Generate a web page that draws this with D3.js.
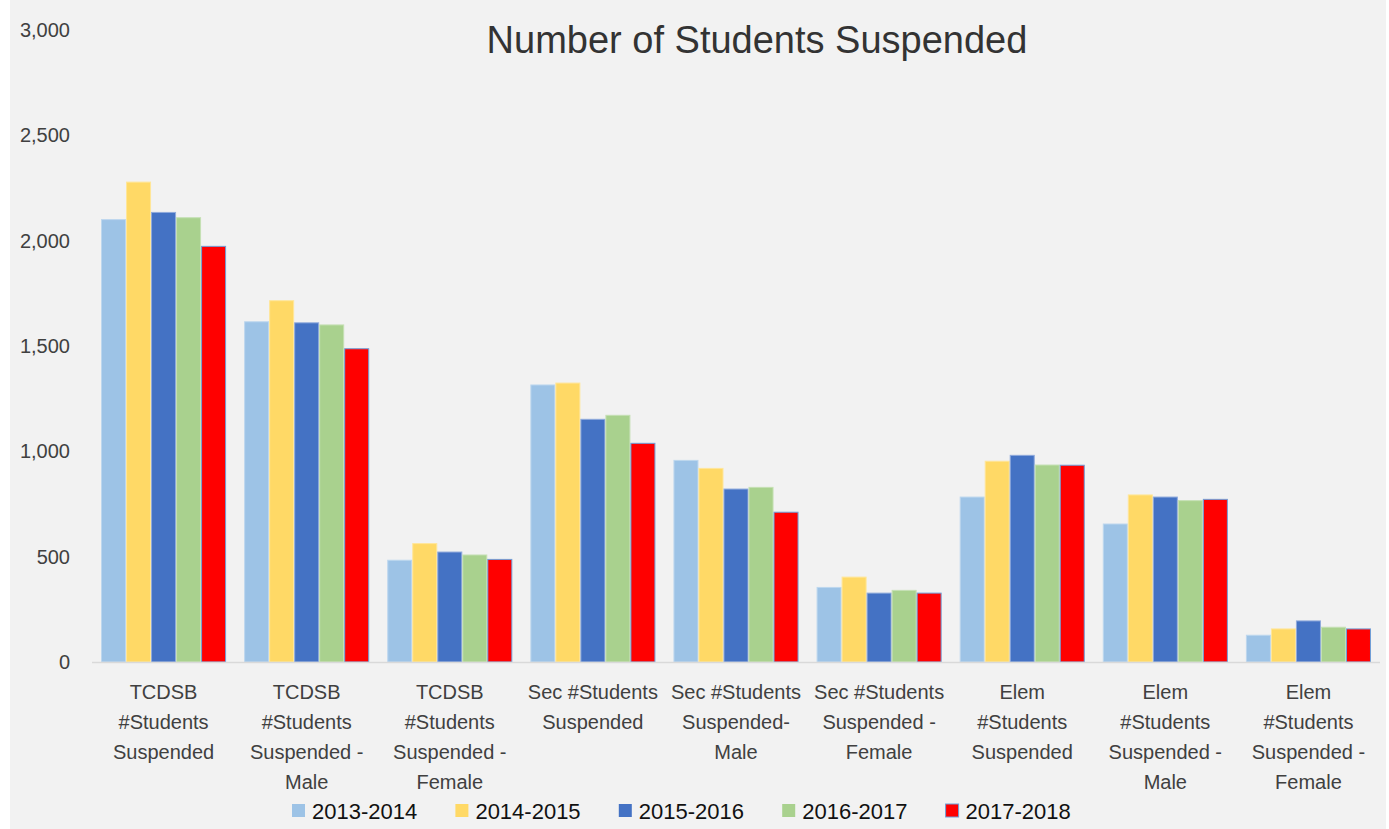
<!DOCTYPE html>
<html>
<head>
<meta charset="utf-8">
<script src="https://cdn.jsdelivr.net/npm/d3@7"></script>
<style>
  body { margin: 0; background: #fff; }
  text { font-family: "Liberation Sans", Arial, sans-serif; }
</style>
</head>
<body>
<div id="chart"></div>
<script>
// categories (label lines as they wrap in the picture)
var categories = [
  ["TCDSB", "#Students", "Suspended"],
  ["TCDSB", "#Students", "Suspended -", "Male"],
  ["TCDSB", "#Students", "Suspended -", "Female"],
  ["Sec #Students", "Suspended"],
  ["Sec #Students", "Suspended-", "Male"],
  ["Sec #Students", "Suspended -", "Female"],
  ["Elem", "#Students", "Suspended"],
  ["Elem", "#Students", "Suspended -", "Male"],
  ["Elem", "#Students", "Suspended -", "Female"]
];
var years = ["2013-2014", "2014-2015", "2015-2016", "2016-2017", "2017-2018"];

var y2013 = [2100, 1615, 483, 1315, 957, 354, 783, 655, 127];
var y2014 = [2278, 1715, 562, 1324, 919, 403, 953, 793, 157];
var y2015 = [2134, 1610, 522, 1152, 821, 327, 981, 783, 195];
var y2016 = [2109, 1600, 508, 1171, 829, 340, 935, 766, 165];
var y2017 = [1973, 1487, 487, 1038, 711, 327, 934, 772, 157];
var series = [y2013, y2014, y2015, y2016, y2017];

var yTicks = [0, 500, 1000, 1500, 2000, 2500, 3000];

var colors = ["#9dc3e6", "#ffd966", "#4472c4", "#a9d18e", "#ff0000"];
var strokes = ["#bdd7ee", "#ffe699", "#8faadc", "#c5e0b4", "#6f9fd8"];

var W = 1389, H = 829;
var margin = {top: 30, right: 9, bottom: 167, left: 92};

var svg = d3.select("#chart").append("svg")
    .attr("width", W).attr("height", H);

svg.append("rect")
    .attr("x", 10).attr("y", 0)
    .attr("width", 1376).attr("height", H)
    .attr("fill", "#f2f2f2");

var x0 = d3.scaleBand()
    .domain(d3.range(categories.length))
    .range([margin.left, W - margin.right])
    .paddingInner(0.126)
    .paddingOuter(0.063);

var x1 = d3.scaleBand()
    .domain(d3.range(years.length))
    .range([0, x0.bandwidth()]);

var y = d3.scaleLinear()
    .domain([0, 3000])
    .range([H - margin.bottom, margin.top]);

// title
svg.append("text")
    .attr("x", 757).attr("y", 53)
    .attr("text-anchor", "middle")
    .attr("font-size", 38)
    .attr("fill", "#333")
    .text("Number of Students Suspended");

// y axis labels
svg.append("g")
  .selectAll("text")
  .data(yTicks)
  .join("text")
    .attr("x", 70)
    .attr("y", function(d) { return y(d); })
    .attr("dy", "0.35em")
    .attr("text-anchor", "end")
    .attr("font-size", 20)
    .attr("fill", "#404040")
    .text(d3.format(","));

// bars
var groups = svg.append("g")
  .selectAll("g")
  .data(categories)
  .join("g")
    .attr("transform", function(d, i) { return "translate(" + x0(i) + ",0)"; });

groups.selectAll("rect")
  .data(function(d, i) { return series.map(function(s, k) { return {k: k, v: s[i]}; }); })
  .join("rect")
    .attr("x", function(d) { return x1(d.k) + 0.5; })
    .attr("y", function(d) { return y(d.v); })
    .attr("width", x1.bandwidth() - 1)
    .attr("height", function(d) { return y(0) - y(d.v); })
    .attr("fill", function(d) { return colors[d.k]; })
    .attr("stroke", function(d) { return strokes[d.k]; })
    .attr("stroke-width", 1);

// baseline
svg.append("line")
    .attr("x1", margin.left).attr("x2", W - margin.right)
    .attr("y1", y(0) + 0.5).attr("y2", y(0) + 0.5)
    .attr("stroke", "#d9d9d9")
    .attr("stroke-width", 1.5);

// category labels
var labels = svg.append("g")
  .selectAll("text")
  .data(categories)
  .join("text")
    .attr("x", function(d, i) { return x0(i) + x0.bandwidth() / 2; })
    .attr("y", 699)
    .attr("text-anchor", "middle")
    .attr("font-size", 20)
    .attr("fill", "#404040");

labels.selectAll("tspan")
  .data(function(d) { return d; })
  .join("tspan")
    .attr("x", function() { return d3.select(this.parentNode).attr("x"); })
    .attr("dy", function(d, i) { return i === 0 ? 0 : 30; })
    .text(function(d) { return d; });

// legend
var legend = svg.append("g")
  .selectAll("g")
  .data(years)
  .join("g")
    .attr("transform", function(d, i) { return "translate(" + (292 + i * 163.4) + ",811)"; });

legend.append("rect")
    .attr("x", 0).attr("y", -7)
    .attr("width", 13).attr("height", 13)
    .attr("fill", function(d, i) { return colors[i]; })
    .attr("stroke", function(d, i) { return i === 4 ? strokes[4] : "none"; });

legend.append("text")
    .attr("x", 20).attr("y", 0)
    .attr("dy", "0.35em")
    .attr("font-size", 22)
    .attr("fill", "#111")
    .text(function(d) { return d; });
</script>
</body>
</html>
